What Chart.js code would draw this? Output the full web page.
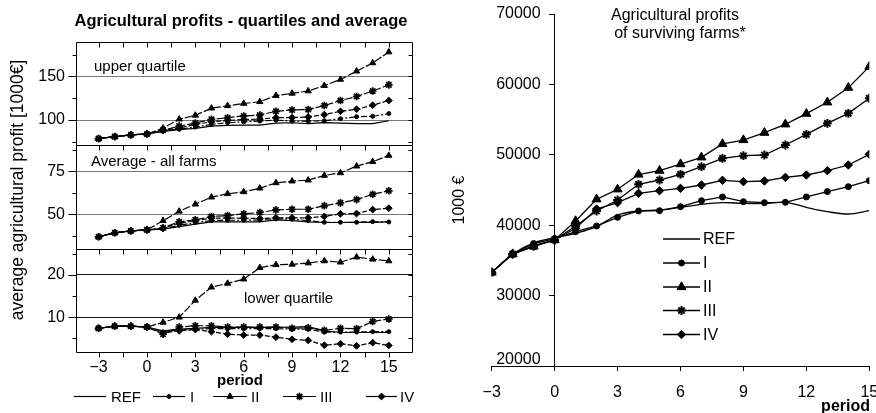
<!DOCTYPE html>
<html><head><meta charset="utf-8">
<script src="https://cdn.jsdelivr.net/npm/chart.js@4"></script>
<style>
html,body{margin:0;padding:0;background:#fff;}
#wrap{position:relative;width:876px;height:413px;overflow:hidden;background:#fff;}
#cl{position:absolute;left:0;top:0;}
#cr{position:absolute;left:440px;top:0;}
</style></head><body>
<div id="wrap">
<canvas id="cl" width="440" height="413"></canvas>
<canvas id="cr" width="436" height="413"></canvas>
</div>
<script>
const FONT = "'Liberation Sans', Arial, Helvetica, sans-serif";
Chart.defaults.font.family = FONT;
Chart.defaults.color = '#000';

// ---------- data ----------
const periods = [-3,-2,-1,0,1,2,3,4,5,6,7,8,9,10,11,12,13,14,15];
const seriesNames = ['REF','I','II','III','IV'];

// Left: upper quartile [1000 EUR]
const upperREF = [78.7,81,83,84,87,89,90.5,93,93.8,94.2,94.2,96.5,96.9,96,97,96.5,96,96,99.2];
const upperI   = [78.7,81,83,84,87.6,89.5,92,95,97,98,98.8,100,98.8,98.8,99.2,101.5,103.9,104.3,107.4];
const upperII  = [78.7,81,83,84,90.7,101,105.4,113.6,116.3,119,121,128,130.6,133.3,139.5,146.5,156,165.5,178];
const upperIII = [78.7,81,83,84,88.4,93,96.5,100.8,102.7,104.7,105.8,110,111.6,112,116.6,122.4,127,133.3,140.3];
const upperIV  = [78.7,81,83,84,88,91,95,98,99.6,100.5,101,102.7,102.7,103.5,106.2,110,112.4,117,122.4];

// Left: average - all farms
const avgREF = [36.9,39.2,40.3,40.9,41.3,42.8,44.2,45.6,45.6,45.6,45.6,46.7,46.3,45.6,45.2,45.2,45.3,45.3,45.6];
const avgI   = [36.9,39.2,40.3,40.9,41.5,43.6,45.2,46.3,46.5,46.5,46.7,47.5,47.1,46.3,45.3,45.3,45.3,45.7,45.5];
const avgII  = [36.9,39.2,40.3,40.9,46.3,51.7,55.8,59.9,61.9,63,65.1,68.2,69.2,69.8,72.5,74,77.9,80.5,84.1];
const avgIII = [36.9,39.2,40.3,40.9,42.1,45.6,46.7,48.7,49.2,50.2,51,52.5,52.9,52.9,54.9,56.6,58.5,61.6,63.6];
const avgIV  = [36.9,39.2,40.3,40.9,41.7,44.8,46.3,47.7,47.7,47.7,47.5,47.9,47.9,47.9,48.7,50.2,50.4,52.7,53.5];

// Left: lower quartile
const lowREF = [7.4,7.9,7.9,7.7,6.8,7.2,7.4,7.6,7.6,7.6,7.6,7.6,7.7,7.8,6.8,6.4,6.4,6.4,6.4];
const lowI   = [7.4,7.9,7.9,7.7,6.5,7.0,7.2,7.3,7.3,7.3,7.3,7.3,7.2,7.2,6.5,6.5,6.5,6.6,6.6];
const lowII  = [7.4,7.9,7.9,7.7,8.8,10,14,17.1,18,19,21.7,22.4,22.5,22.8,23.3,23,24.2,23.7,23.3];
const lowIII = [7.4,7.9,7.9,7.7,6.0,7.7,8.0,8.0,7.7,7.7,7.7,7.7,7.4,7.5,6.9,7.4,7.3,9.0,9.6];
const lowIV  = [7.4,7.9,7.9,7.7,6.3,6.8,7.1,6.6,6.0,5.8,5.8,5.3,4.8,4.55,3.4,3.75,3.25,4.0,3.35];

// Right: surviving farms [EUR]
const survREF = [33300,35900,37500,38200,38850,39790,41450,42020,42160,42540,42970,43200,43100,43100,43250,42540,41920,41590,42060];
const survI   = [33300,35900,37400,38100,39080,39890,41120,42020,42060,42630,43480,44010,43340,43200,43250,44010,44770,45470,46320];
const survII  = [33300,35900,37000,37900,40600,43680,45100,47200,47740,48680,49640,51540,52100,53140,54330,55840,57460,59530,62520];
const survIII = [33300,35900,37000,37900,39890,42020,43580,45810,46420,47230,48310,49500,49870,49970,51390,52910,54470,55890,58030];
const survIV  = [33300,35900,37100,37900,39560,42300,43200,44530,44900,45240,45710,46380,46180,46280,46800,47130,47740,48550,50070];

// ticks
const xTickValues = [-3,0,3,6,9,12,15];
const xMinorTicks = [-3,-1.5,0,1.5,3,4.5,6,7.5,9,10.5,12,13.5,15];
const upperTicks = [75,100,125,150,175];
const upperLabelVals = [100,150];
const avgTicks = [37.5,50,62.5,75,87.5];
const avgLabelVals = [50,75];
const lowerTicks = [5,10,15,20,25];
const lowerLabelVals = [10,20];
const rightYTicks = [20000,30000,40000,50000,60000,70000];

// ---------- helpers ----------
const pts = arr => periods.map((p, i) => ({x: p, y: arr[i]}));
const fmtX = v => (v < 0 ? '\u2212' + Math.abs(v) : String(v));

const leftStyle = {
  REF: {pointRadius: 0, borderDash: [], pointStyle: 'circle', pbw: 1},
  I:   {pointRadius: 2, borderDash: [6,2,2,2], pointStyle: 'circle', pbw: 1},
  II:  {pointRadius: 3.6, borderDash: [8,2], pointStyle: 'triangle', pbw: 1},
  III: {pointRadius: 3.8, borderDash: [8,2], pointStyle: 'star', pbw: 1.7},
  IV:  {pointRadius: 3.4, borderDash: [5,2], pointStyle: 'rectRot', pbw: 1}
};
const rightStyle = {
  REF: {pointRadius: 0, pointStyle: 'circle', pbw: 1, tension: 0.35},
  I:   {pointRadius: 3, pointStyle: 'circle', pbw: 1, tension: 0},
  II:  {pointRadius: 5.2, pointStyle: 'triangle', pbw: 1, tension: 0},
  III: {pointRadius: 4.4, pointStyle: 'star', pbw: 2, tension: 0},
  IV:  {pointRadius: 4.2, pointStyle: 'rectRot', pbw: 1, tension: 0}
};

function mkLeft(name, arr, axis) {
  const st = leftStyle[name];
  return {
    label: name, data: pts(arr), yAxisID: axis,
    borderColor: '#000', backgroundColor: '#000', borderWidth: 1.2,
    borderDash: st.borderDash, pointRadius: st.pointRadius, pointHoverRadius: st.pointRadius,
    pointStyle: st.pointStyle, pointBorderWidth: st.pbw, tension: 0, fill: false
  };
}
function mkRight(name, arr) {
  const st = rightStyle[name];
  return {
    label: name, data: pts(arr),
    borderColor: '#000', backgroundColor: '#000', borderWidth: 1.3,
    pointRadius: st.pointRadius, pointHoverRadius: st.pointRadius,
    pointStyle: st.pointStyle, pointBorderWidth: st.pbw, tension: st.tension, fill: false
  };
}

const upperData = {REF: upperREF, I: upperI, II: upperII, III: upperIII, IV: upperIV};
const avgData = {REF: avgREF, I: avgI, II: avgII, III: avgIII, IV: avgIV};
const lowData = {REF: lowREF, I: lowI, II: lowII, III: lowIII, IV: lowIV};
const survData = {REF: survREF, I: survI, II: survII, III: survIII, IV: survIV};

const leftDatasets = [];
seriesNames.forEach(n => leftDatasets.push(mkLeft(n, upperData[n], 'yTop')));
seriesNames.forEach(n => leftDatasets.push(mkLeft(n, avgData[n], 'yMid')));
seriesNames.forEach(n => leftDatasets.push(mkLeft(n, lowData[n], 'yLow')));

function panelAxis(min, max, ticks, labels, gridColor) {
  return {
    type: 'linear', position: 'left', stack: 'panels', stackWeight: 1,
    min: min, max: max,
    afterBuildTicks: s => { s.ticks = ticks.map(v => ({value: v})); },
    afterFit: s => { s.width = 76; s.paddingTop = 0; s.paddingBottom = 0; },
    ticks: {
      font: {size: 16}, color: '#000', padding: 11, autoSkip: false,
      callback: v => (labels.includes(v) ? String(v) : '')
    },
    grid: {
      drawTicks: false, lineWidth: 1,
      color: c => (c.tick && labels.includes(c.tick.value) ? gridColor : 'rgba(0,0,0,0)')
    },
    border: {display: false}
  };
}

function drawMarker(ctx, style, radius, bw, x, y) {
  ctx.fillStyle = '#000';
  ctx.strokeStyle = '#000';
  ctx.lineWidth = bw;
  if (radius > 0) {
    Chart.helpers.drawPoint(ctx, {pointStyle: style, radius: radius, rotation: 0, borderWidth: bw}, x, y);
  }
}

const leftDecor = {
  id: 'leftDecor',
  afterDraw(chart) {
    const {ctx, chartArea: ca, scales} = chart;
    const xs = scales.x;
    const panels = [
      {s: scales.yTop, ticks: upperTicks, labels: upperLabelVals},
      {s: scales.yMid, ticks: avgTicks, labels: avgLabelVals},
      {s: scales.yLow, ticks: lowerTicks, labels: lowerLabelVals}
    ];
    ctx.save();
    ctx.strokeStyle = '#000'; ctx.lineWidth = 1; ctx.setLineDash([]);
    const L = Math.round(ca.left) + 0.5, R = Math.round(ca.right) - 0.5;
    panels.forEach(p => {
      const T = Math.round(p.s.top) + 0.5, B = Math.round(p.s.bottom) + 0.5;
      ctx.beginPath();
      ctx.moveTo(L, T); ctx.lineTo(R, T); ctx.lineTo(R, B); ctx.lineTo(L, B); ctx.closePath();
      ctx.stroke();
      p.ticks.forEach(v => {
        const y = Math.round(p.s.getPixelForValue(v)) + 0.5;
        const major = p.labels.includes(v);
        ctx.beginPath();
        ctx.moveTo(L - (major ? 8 : 4), y); ctx.lineTo(L, y);
        ctx.moveTo(R - 4, y); ctx.lineTo(R, y);
        ctx.stroke();
      });
      xMinorTicks.forEach(v => {
        const x = Math.round(xs.getPixelForValue(v)) + 0.5;
        ctx.beginPath(); ctx.moveTo(x, T); ctx.lineTo(x, T + 5); ctx.stroke();
      });
    });
    const Bb = Math.round(scales.yLow.bottom) + 0.5;
    xMinorTicks.forEach(v => {
      const x = Math.round(xs.getPixelForValue(v)) + 0.5;
      ctx.beginPath(); ctx.moveTo(x, Bb); ctx.lineTo(x, Bb + 5); ctx.stroke();
    });

    ctx.fillStyle = '#000';
    ctx.textBaseline = 'alphabetic';
    ctx.textAlign = 'center';
    ctx.font = 'bold 16.5px ' + FONT;
    ctx.fillText('Agricultural profits - quartiles and average', 241, 26);
    ctx.font = '15px ' + FONT;
    ctx.textAlign = 'left';
    ctx.fillText('upper quartile', 94, 70.5);
    ctx.fillText('Average - all farms', 91, 166);
    ctx.fillText('lower quartile', 244, 303);
    ctx.textAlign = 'center';
    ctx.font = 'bold 15px ' + FONT;
    ctx.fillText('period', 240, 385);

    ctx.save();
    ctx.translate(18, 190);
    ctx.rotate(-Math.PI / 2);
    ctx.font = '17.5px ' + FONT;
    ctx.textBaseline = 'middle';
    ctx.fillText('average agricultural profit [1000\u20ac]', 0, 0);
    ctx.restore();

    // legend
    const legendItems = [
      {n: 'REF', x0: 74, x1: 106, tx: 111},
      {n: 'I', x0: 153, x1: 185, tx: 190},
      {n: 'II', x0: 213, x1: 247, tx: 251},
      {n: 'III', x0: 283, x1: 316, tx: 320},
      {n: 'IV', x0: 366, x1: 397, tx: 400}
    ];
    const ly = 396.5;
    ctx.font = '15px ' + FONT;
    ctx.textAlign = 'left';
    ctx.textBaseline = 'middle';
    legendItems.forEach(it => {
      const st = leftStyle[it.n];
      ctx.strokeStyle = '#000'; ctx.lineWidth = 1.2;
      ctx.beginPath(); ctx.moveTo(it.x0, ly); ctx.lineTo(it.x1, ly); ctx.stroke();
      drawMarker(ctx, st.pointStyle, st.pointRadius, st.pbw, (it.x0 + it.x1) / 2, ly);
      ctx.fillStyle = '#000';
      ctx.fillText(it.n, it.tx, ly + 1);
    });
    ctx.restore();
  }
};

new Chart(document.getElementById('cl'), {
  type: 'line',
  data: {datasets: leftDatasets},
  options: {
    responsive: false, animation: false,
    layout: {padding: {left: 0, right: 27, top: 42, bottom: 0}},
    plugins: {legend: {display: false}, tooltip: {enabled: false}, title: {display: false}},
    scales: {
      x: {
        type: 'linear', min: -4.4, max: 16.5,
        afterBuildTicks: s => { s.ticks = xTickValues.map(v => ({value: v})); },
        afterFit: s => { s.height = 61; s.paddingLeft = 0; s.paddingRight = 0; },
        ticks: {font: {size: 16}, color: '#000', padding: 6, autoSkip: false, maxRotation: 0, callback: v => fmtX(v)},
        grid: {display: false, drawTicks: false},
        border: {display: false}
      },
      yLow: panelAxis(1.8, 26.2, lowerTicks, lowerLabelVals, '#111'),
      yMid: panelAxis(30, 90, avgTicks, avgLabelVals, '#777'),
      yTop: panelAxis(71, 189.5, upperTicks, upperLabelVals, '#777')
    }
  },
  plugins: [leftDecor]
});

// ---------- right chart ----------
const rightDecor = {
  id: 'rightDecor',
  afterDraw(chart) {
    const {ctx, scales} = chart;
    const ys = scales.y, xs = scales.x;
    ctx.save();
    ctx.fillStyle = '#000';
    ctx.font = '16px ' + FONT;
    // y tick labels (left of the y axis at x = 0)
    const axX = xs.getPixelForValue(0);
    ctx.textAlign = 'right';
    ctx.textBaseline = 'middle';
    rightYTicks.forEach(v => {
      const py = Math.min(ys.getPixelForValue(v), ys.bottom - 6);
      ctx.fillText(String(v), axX - 14, py);
    });
    // title
    ctx.textAlign = 'center';
    ctx.textBaseline = 'alphabetic';
    ctx.fillText('Agricultural profits', 235, 19.5);
    ctx.fillText('of surviving farms*', 240, 37.5);
    // y title
    ctx.save();
    ctx.translate(20, 200);
    ctx.rotate(-Math.PI / 2);
    ctx.textBaseline = 'middle';
    ctx.fillText('1000 \u20ac', 0, 0);
    ctx.restore();
    // x title
    ctx.font = 'bold 16px ' + FONT;
    ctx.textAlign = 'right';
    ctx.fillText('period', 430, 411);
    // legend
    ctx.font = '16px ' + FONT;
    ctx.textAlign = 'left';
    ctx.textBaseline = 'middle';
    const lys = [239, 263, 287, 310.5, 334.5];
    seriesNames.forEach((n, i) => {
      const st = rightStyle[n];
      const y = lys[i];
      ctx.strokeStyle = '#000'; ctx.lineWidth = 1.3;
      ctx.beginPath(); ctx.moveTo(223, y); ctx.lineTo(260, y); ctx.stroke();
      drawMarker(ctx, st.pointStyle, st.pointRadius, st.pbw, 241.5, y);
      ctx.fillStyle = '#000';
      ctx.fillText(n, 263, y + 1);
    });
    ctx.restore();
  }
};

new Chart(document.getElementById('cr'), {
  type: 'line',
  data: {datasets: seriesNames.map(n => mkRight(n, survData[n]))},
  options: {
    responsive: false, animation: false,
    layout: {padding: {left: 51.7, right: 6.7, top: 14, bottom: 0}},
    plugins: {legend: {display: false}, tooltip: {enabled: false}, title: {display: false}},
    scales: {
      x: {
        type: 'linear', min: -3, max: 15,
        afterBuildTicks: s => { s.ticks = xTickValues.map(v => ({value: v})); },
        afterFit: s => { s.height = 47; s.paddingLeft = 0; s.paddingRight = 0; },
        ticks: {font: {size: 16}, color: '#000', padding: 12, autoSkip: false, maxRotation: 0, callback: v => fmtX(v)},
        grid: {drawOnChartArea: false, color: '#000', tickLength: 5, lineWidth: 1},
        border: {display: true, color: '#000', width: 1}
      },
      y: {
        type: 'linear', position: {x: 0}, min: 20000, max: 70000,
        afterBuildTicks: s => { s.ticks = rightYTicks.map(v => ({value: v})); },
        afterFit: s => { s.paddingTop = 0; s.paddingBottom = 0; },
        ticks: {display: false},
        grid: {drawOnChartArea: false, color: '#000', tickLength: 5, lineWidth: 1},
        border: {display: true, color: '#000', width: 1}
      }
    }
  },
  plugins: [rightDecor]
});
</script>
</body></html>
